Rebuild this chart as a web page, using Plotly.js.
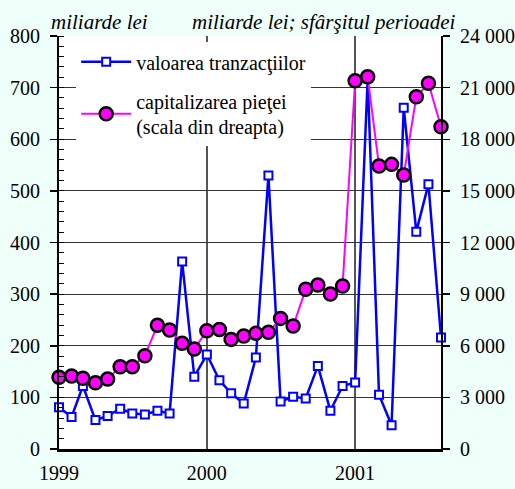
<!DOCTYPE html>
<html>
<head>
<meta charset="utf-8">
<script src="https://cdn.plot.ly/plotly-3.0.1.min.js"></script>
<style>html,body{margin:0;padding:0;background:#EFFFFA;}</style>
</head>
<body>
<div id="chart" style="width:515px;height:489px;"></div>
<script>
const months = ['1999-01-01','1999-02-01','1999-03-01','1999-04-01','1999-05-01','1999-06-01','1999-07-01','1999-08-01','1999-09-01','1999-10-01','1999-11-01','1999-12-01',
  '2000-01-01','2000-02-01','2000-03-01','2000-04-01','2000-05-01','2000-06-01','2000-07-01','2000-08-01','2000-09-01','2000-10-01','2000-11-01','2000-12-01',
  '2001-01-01','2001-02-01','2001-03-01','2001-04-01','2001-05-01','2001-06-01','2001-07-01','2001-08-01'];
const tranzactii = [81,62,122,56,64,78,69,67,74,69,363,140,183,133,108,88,177,530,92,101,98,161,74,122,129,718,105,46,661,421,513,216];
const capitalizare = [4170,4240,4110,3850,4070,4780,4780,5420,7190,6920,6140,5810,6870,6950,6370,6570,6720,6780,7590,7150,9280,9530,9010,9470,21400,21630,16450,16540,15920,20470,21250,18730];
const nameTranz = 'valoarea tranzacţiilor';
const nameCap = 'capitalizarea pieţei<br>(scala din dreapta)';
const leftTitle = 'miliarde lei';
const rightTitle = 'miliarde lei; sfârşitul perioadei';

const font = 'Times New Roman, Liberation Serif, DejaVu Serif';

const traces = [
  {x: months, y: tranzactii, name: nameTranz, type: 'scatter', mode: 'lines+markers', cliponaxis: false,
   line: {color: '#0000FF', width: 2.5},
   marker: {symbol: 'square', size: 8, color: '#FFFFFF', line: {color: '#0000FF', width: 2}},
   legendgroup: 'a'},
  {x: months, y: capitalizare, name: nameCap, type: 'scatter', mode: 'lines+markers', yaxis: 'y2', cliponaxis: false,
   line: {color: '#FF00FF', width: 2},
   marker: {symbol: 'circle', size: 13, color: '#FF00FF', line: {color: '#000000', width: 2.5}},
   legendgroup: 'b'}
];

const layout = {
  width: 515, height: 489,
  margin: {l: 59, r: 74, t: 36, b: 40},
  paper_bgcolor: '#EFFFFA',
  plot_bgcolor: '#FFFFFF',
  font: {family: font, size: 20, color: '#000000'},
  separators: '. ',
  showlegend: true,
  legend: {x: 0.045, y: 0.985, xanchor: 'left', yanchor: 'top', bgcolor: '#FFFFFF',
           font: {family: font, size: 20}, itemwidth: 50, tracegroupgap: 10, traceorder: 'grouped'},
  xaxis: {type: 'date', range: ['1999-01-01', '2001-08-01'], tick0: '1999-01-01', dtick: 'M12', tickformat: '%Y',
          showgrid: true, gridcolor: '#555555', gridwidth: 1.5, ticks: '', ticklabelstandoff: 4,
          tickfont: {family: font, size: 20},
          showline: true, linecolor: '#000000', linewidth: 3, zeroline: false, fixedrange: true},
  yaxis: {range: [0, 800], dtick: 100, showgrid: true, gridcolor: '#333333', gridwidth: 1,
          tickfont: {family: font, size: 20},
          ticks: 'outside', ticklen: 7, tickcolor: '#000000', tickwidth: 1.5, ticklabelstandoff: 6,
          minor: {dtick: 20, ticks: 'inside', ticklen: 5, tickcolor: '#000000', tickwidth: 1, showgrid: false},
          showline: true, linecolor: '#000000', linewidth: 2, zeroline: false, fixedrange: true},
  yaxis2: {range: [0, 24000], dtick: 3000, overlaying: 'y', side: 'right', showgrid: false,
           tickfont: {family: font, size: 20},
           tickformat: ',d', separatethousands: true, ticks: 'outside', ticklen: 7, tickcolor: '#000000', tickwidth: 1.5, ticklabelstandoff: 6,
           showline: true, linecolor: '#000000', linewidth: 2, zeroline: false, fixedrange: true},
  annotations: [
    {text: leftTitle, xref: 'paper', yref: 'paper', x: -0.027, y: 1.0, xanchor: 'left', yanchor: 'bottom',
     showarrow: false, font: {family: font, size: 21, style: 'italic'}},
    {text: rightTitle, xref: 'paper', yref: 'paper', x: 1.045, y: 1.0, xanchor: 'right', yanchor: 'bottom',
     showarrow: false, font: {family: font, size: 21, style: 'italic'}}
  ]
};

Plotly.newPlot('chart', traces, layout, {displayModeBar: false, staticPlot: true});
</script>
</body>
</html>
